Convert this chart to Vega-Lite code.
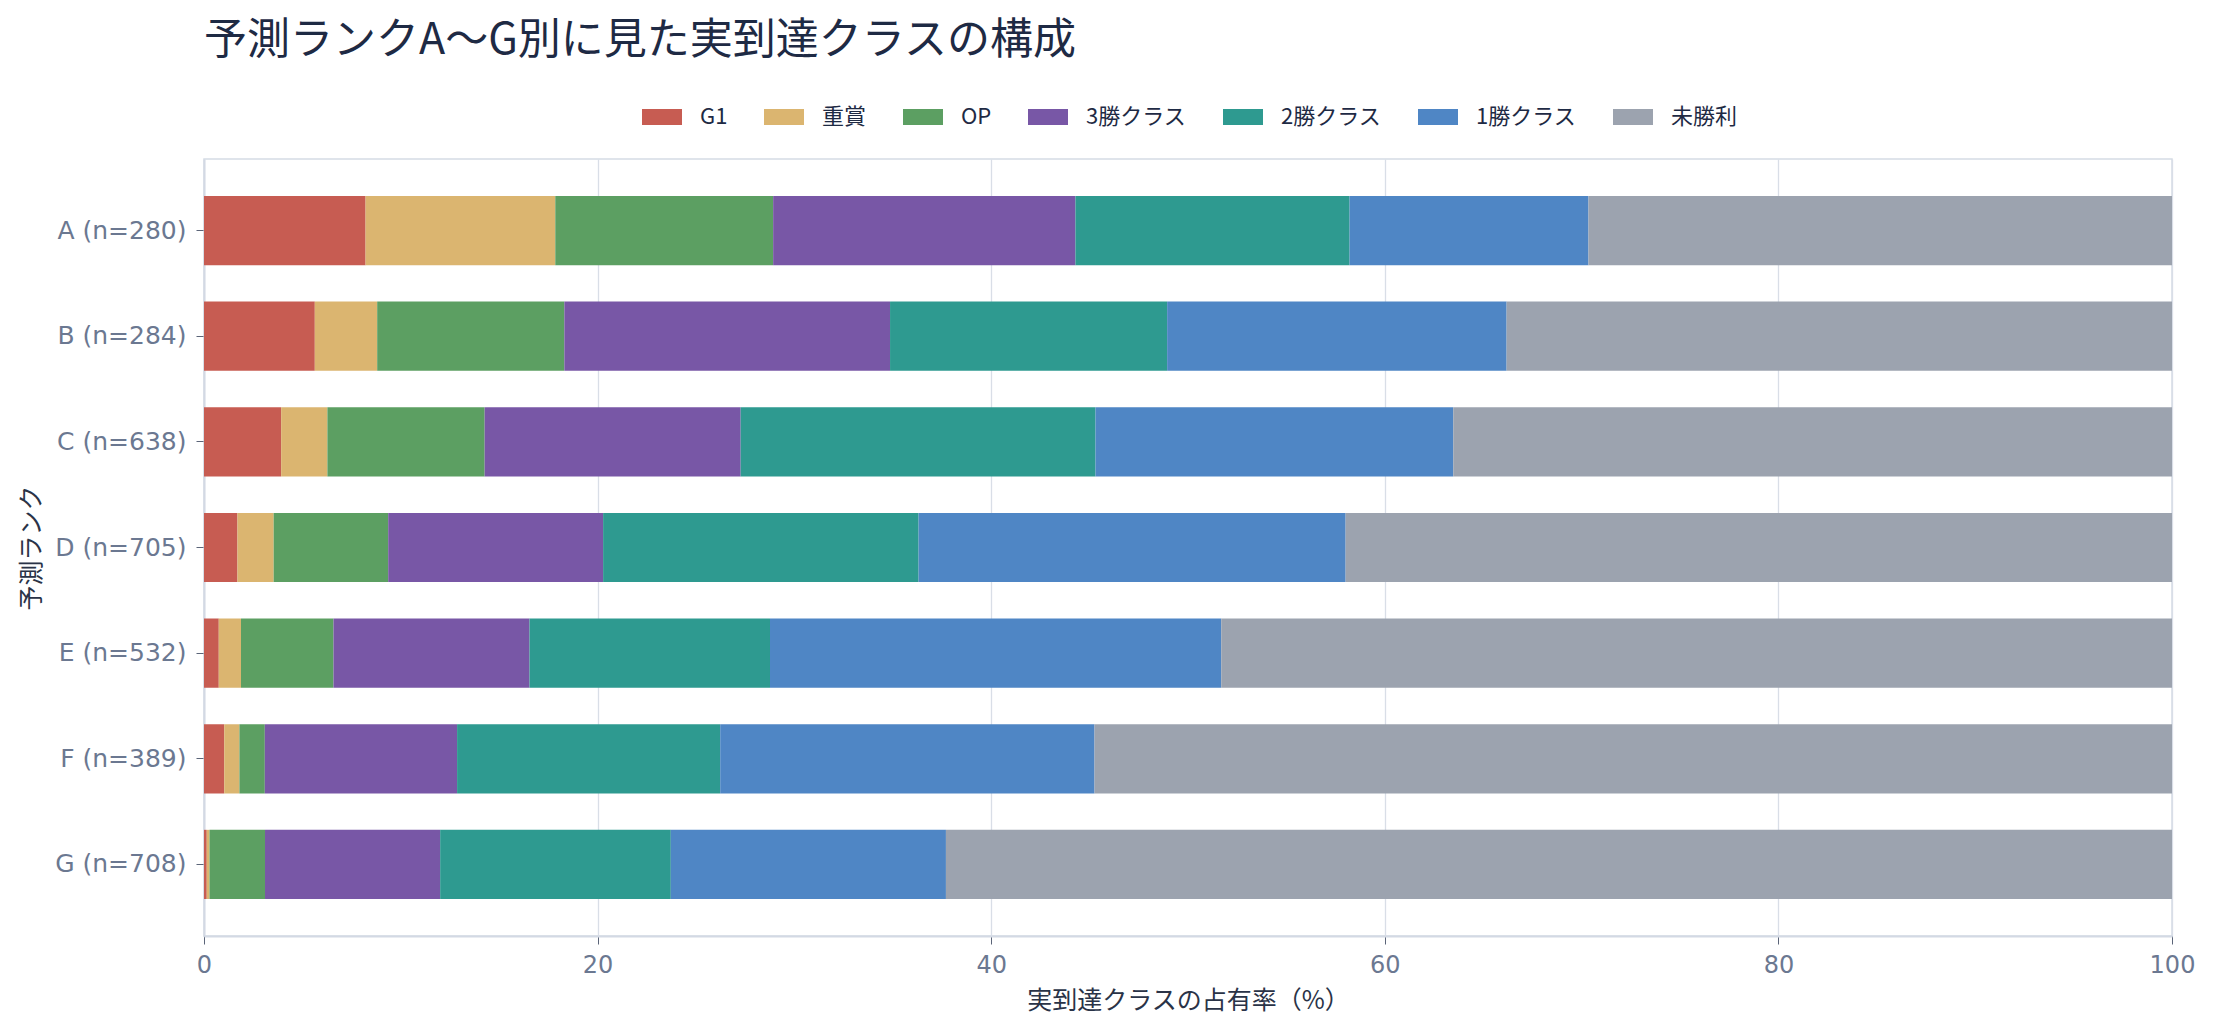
{
  "$schema": "https://vega.github.io/schema/vega-lite/v6.json",
  "width": 1968,
  "height": 777,
  "autosize": {"type": "none"},
  "padding": {"left": 204, "top": 159, "right": 44, "bottom": 95},
  "background": "white",
  "title": {
    "text": "予測ランクA～G別に見た実到達クラスの構成",
    "anchor": "start",
    "frame": "group",
    "font": "Noto Sans CJK JP",
    "fontSize": 43,
    "fontWeight": "normal",
    "color": "#1e2a44",
    "offset": 34
  },
  "data": {
    "values": [
      {"r": "A (n=280)", "c": "G1", "k": 1, "p": 8.21},
      {"r": "A (n=280)", "c": "重賞", "k": 2, "p": 9.64},
      {"r": "A (n=280)", "c": "OP", "k": 3, "p": 11.07},
      {"r": "A (n=280)", "c": "3勝クラス", "k": 4, "p": 15.36},
      {"r": "A (n=280)", "c": "2勝クラス", "k": 5, "p": 13.93},
      {"r": "A (n=280)", "c": "1勝クラス", "k": 6, "p": 12.14},
      {"r": "A (n=280)", "c": "未勝利", "k": 7, "p": 29.65},
      {"r": "B (n=284)", "c": "G1", "k": 1, "p": 5.63},
      {"r": "B (n=284)", "c": "重賞", "k": 2, "p": 3.17},
      {"r": "B (n=284)", "c": "OP", "k": 3, "p": 9.51},
      {"r": "B (n=284)", "c": "3勝クラス", "k": 4, "p": 16.55},
      {"r": "B (n=284)", "c": "2勝クラス", "k": 5, "p": 14.08},
      {"r": "B (n=284)", "c": "1勝クラス", "k": 6, "p": 17.25},
      {"r": "B (n=284)", "c": "未勝利", "k": 7, "p": 33.81},
      {"r": "C (n=638)", "c": "G1", "k": 1, "p": 3.92},
      {"r": "C (n=638)", "c": "重賞", "k": 2, "p": 2.35},
      {"r": "C (n=638)", "c": "OP", "k": 3, "p": 7.99},
      {"r": "C (n=638)", "c": "3勝クラス", "k": 4, "p": 13.01},
      {"r": "C (n=638)", "c": "2勝クラス", "k": 5, "p": 18.03},
      {"r": "C (n=638)", "c": "1勝クラス", "k": 6, "p": 18.18},
      {"r": "C (n=638)", "c": "未勝利", "k": 7, "p": 36.52},
      {"r": "D (n=705)", "c": "G1", "k": 1, "p": 1.70},
      {"r": "D (n=705)", "c": "重賞", "k": 2, "p": 1.84},
      {"r": "D (n=705)", "c": "OP", "k": 3, "p": 5.82},
      {"r": "D (n=705)", "c": "3勝クラス", "k": 4, "p": 10.92},
      {"r": "D (n=705)", "c": "2勝クラス", "k": 5, "p": 16.03},
      {"r": "D (n=705)", "c": "1勝クラス", "k": 6, "p": 21.70},
      {"r": "D (n=705)", "c": "未勝利", "k": 7, "p": 41.99},
      {"r": "E (n=532)", "c": "G1", "k": 1, "p": 0.75},
      {"r": "E (n=532)", "c": "重賞", "k": 2, "p": 1.13},
      {"r": "E (n=532)", "c": "OP", "k": 3, "p": 4.70},
      {"r": "E (n=532)", "c": "3勝クラス", "k": 4, "p": 9.96},
      {"r": "E (n=532)", "c": "2勝クラス", "k": 5, "p": 12.22},
      {"r": "E (n=532)", "c": "1勝クラス", "k": 6, "p": 22.93},
      {"r": "E (n=532)", "c": "未勝利", "k": 7, "p": 48.31},
      {"r": "F (n=389)", "c": "G1", "k": 1, "p": 1.03},
      {"r": "F (n=389)", "c": "重賞", "k": 2, "p": 0.77},
      {"r": "F (n=389)", "c": "OP", "k": 3, "p": 1.29},
      {"r": "F (n=389)", "c": "3勝クラス", "k": 4, "p": 9.77},
      {"r": "F (n=389)", "c": "2勝クラス", "k": 5, "p": 13.37},
      {"r": "F (n=389)", "c": "1勝クラス", "k": 6, "p": 19.02},
      {"r": "F (n=389)", "c": "未勝利", "k": 7, "p": 54.75},
      {"r": "G (n=708)", "c": "G1", "k": 1, "p": 0.14},
      {"r": "G (n=708)", "c": "重賞", "k": 2, "p": 0.14},
      {"r": "G (n=708)", "c": "OP", "k": 3, "p": 2.82},
      {"r": "G (n=708)", "c": "3勝クラス", "k": 4, "p": 8.90},
      {"r": "G (n=708)", "c": "2勝クラス", "k": 5, "p": 11.72},
      {"r": "G (n=708)", "c": "1勝クラス", "k": 6, "p": 13.98},
      {"r": "G (n=708)", "c": "未勝利", "k": 7, "p": 62.30}
    ]
  },
  "mark": {"type": "bar"},
  "encoding": {
    "y": {
      "field": "r",
      "type": "nominal",
      "sort": ["A (n=280)", "B (n=284)", "C (n=638)", "D (n=705)", "E (n=532)", "F (n=389)", "G (n=708)"],
      "scale": {"paddingInner": 0.345, "paddingOuter": 0.35},
      "axis": {
        "title": "予測ランク",
        "titleFont": "Noto Sans CJK JP",
        "titleFontSize": 25,
        "titleFontWeight": "normal",
        "titleColor": "#2a3347",
        "titlePadding": 10,
        "labelFont": "DejaVu Sans",
        "labelFontSize": 25,
        "labelColor": "#6b7891",
        "labelPadding": 10,
        "tickSize": 8,
        "tickColor": "#5b6478",
        "domainColor": "#d3d9e4",
        "domainWidth": 2,
        "grid": false
      }
    },
    "x": {
      "field": "p",
      "type": "quantitative",
      "stack": "zero",
      "scale": {"domain": [0, 100], "nice": false},
      "axis": {
        "title": "実到達クラスの占有率（%）",
        "titleFont": "Noto Sans CJK JP",
        "titleFontSize": 25,
        "titleFontWeight": "normal",
        "titleColor": "#2a3347",
        "titlePadding": 11,
        "values": [0, 20, 40, 60, 80, 100],
        "labelFlush": false,
        "labelFont": "DejaVu Sans",
        "labelFontSize": 24,
        "labelColor": "#6b7891",
        "labelPadding": 9,
        "tickSize": 8,
        "tickColor": "#5b6478",
        "domainColor": "#d3d9e4",
        "domainWidth": 2,
        "grid": true,
        "gridColor": "#d9dee7",
        "gridWidth": 1.3
      }
    },
    "color": {
      "field": "c",
      "type": "nominal",
      "scale": {
        "domain": ["G1", "重賞", "OP", "3勝クラス", "2勝クラス", "1勝クラス", "未勝利"],
        "range": ["#c75c52", "#dbb570", "#5c9f62", "#7857a6", "#2e9a90", "#4f86c5", "#9ca3af"]
      },
      "legend": {
        "title": null,
        "orient": "none",
        "direction": "horizontal",
        "legendX": 438,
        "legendY": -62,
        "padding": 0,
        "symbolType": "M-1,-0.4L1,-0.4L1,0.4L-1,0.4Z",
        "symbolSize": 1600,
        "symbolStrokeWidth": 0,
        "symbolOpacity": 1,
        "labelFont": "Noto Sans CJK JP",
        "labelFontSize": 22,
        "labelColor": "#1e2a44",
        "labelOffset": 18,
        "columnPadding": 36
      }
    },
    "order": {"field": "k", "type": "quantitative"}
  },
  "config": {
    "view": {"stroke": "#d5dbe5", "strokeWidth": 1.5},
    "axis": {"gridColor": "#d9dee7"}
  }
}
